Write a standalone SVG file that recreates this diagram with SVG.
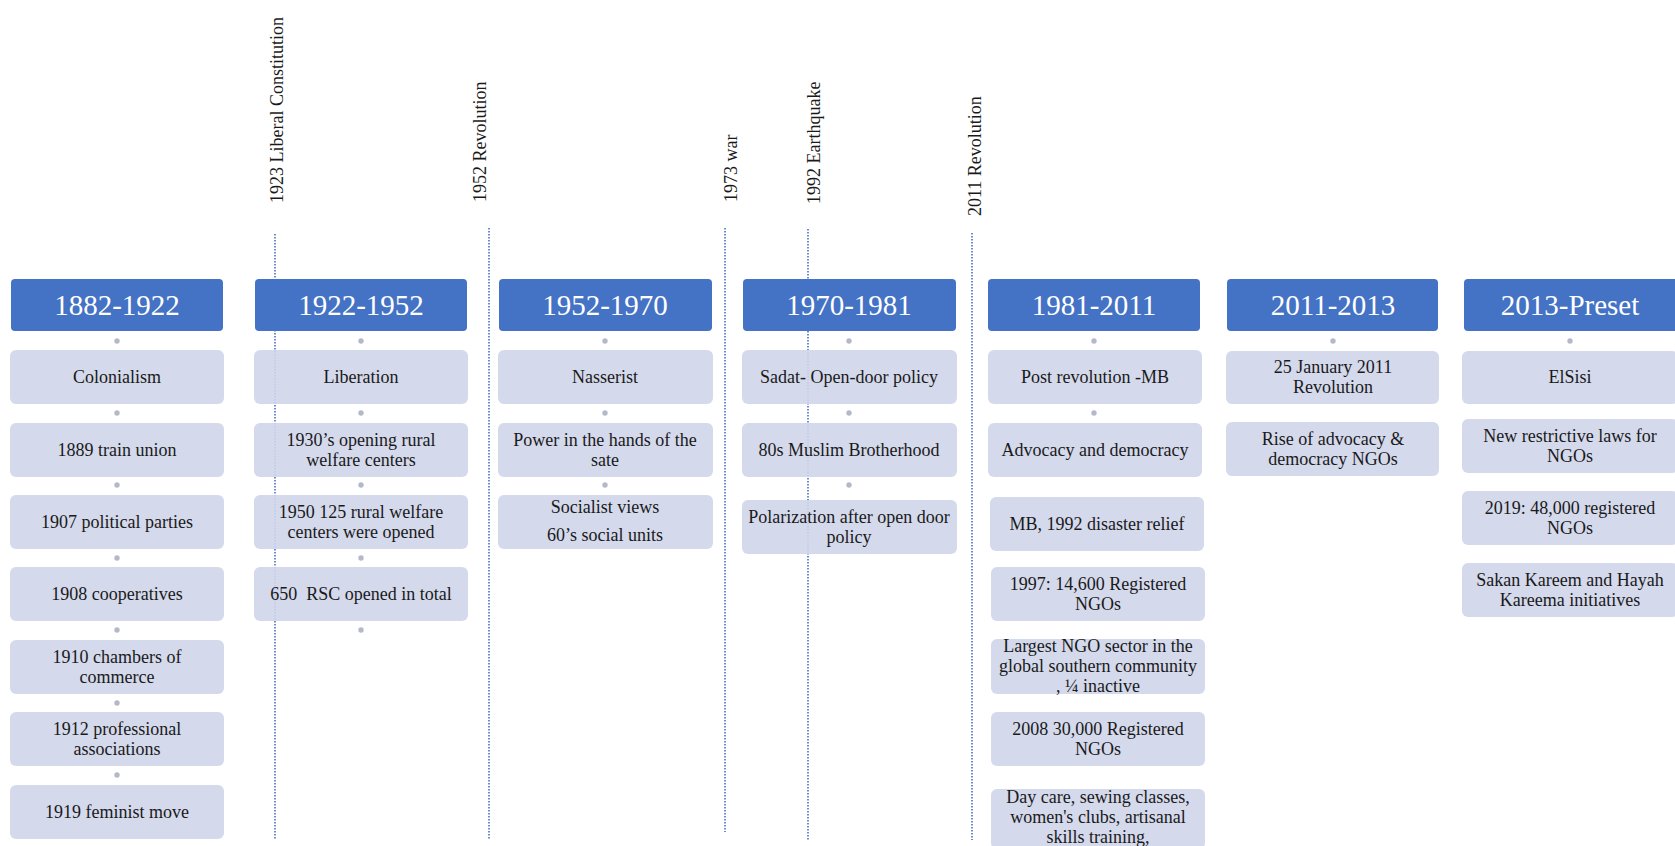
<svg xmlns="http://www.w3.org/2000/svg" width="1675" height="846" viewBox="0 0 1675 846">
  <style>
    .hdr { fill: #4472C4; }
    .hdr-t { font-family: "Liberation Serif", "Times New Roman", serif; font-size: 29px; fill: #FFFFFF; text-anchor: middle; }
    .sub { fill: #CFD5EA; fill-opacity: 0.9; }
    .sub-t { font-family: "Liberation Serif", "Times New Roman", serif; font-size: 18px; fill: #1A1A1A; text-anchor: middle; }
    .evt { stroke: #5578C6; stroke-width: 1.7; stroke-dasharray: 1.5 1.5; fill: none; }
    .evt-t { font-family: "Liberation Serif", "Times New Roman", serif; font-size: 18px; fill: #1A1A1A; }
    .dot { fill: #B3B9CB; }
  </style>
  <rect width="1675" height="846" fill="#FFFFFF"/>

  <!-- event markers: dotted vertical lines with rotated labels -->
  <g id="events">
    <g id="evt-1923">
      <line class="evt" x1="275" y1="234" x2="275" y2="840"/>
      <text class="evt-t" transform="translate(283,203) rotate(-90)">1923 Liberal Constitution</text>
    </g>
    <g id="evt-1952">
      <line class="evt" x1="489" y1="228" x2="489" y2="840"/>
      <text class="evt-t" transform="translate(486,202) rotate(-90)">1952 Revolution</text>
    </g>
    <g id="evt-1973">
      <line class="evt" x1="725" y1="228" x2="725" y2="832"/>
      <text class="evt-t" transform="translate(737,202) rotate(-90)">1973 war</text>
    </g>
    <g id="evt-1992">
      <line class="evt" x1="808" y1="229" x2="808" y2="840"/>
      <text class="evt-t" transform="translate(820,204) rotate(-90)">1992 Earthquake</text>
    </g>
    <g id="evt-2011">
      <line class="evt" x1="972" y1="233" x2="972" y2="840"/>
      <text class="evt-t" transform="translate(981,216) rotate(-90)">2011 Revolution</text>
    </g>
  </g>

  <!-- period headers -->
  <g id="hdr-1882"><rect class="hdr" x="11" y="279" width="212" height="52" rx="4"/><text class="hdr-t" x="117" y="315">1882-1922</text></g>
  <g id="hdr-1922"><rect class="hdr" x="255" y="279" width="212" height="52" rx="4"/><text class="hdr-t" x="361" y="315">1922-1952</text></g>
  <g id="hdr-1952"><rect class="hdr" x="499" y="279" width="213" height="52" rx="4"/><text class="hdr-t" x="605" y="315">1952-1970</text></g>
  <g id="hdr-1970"><rect class="hdr" x="743" y="279" width="213" height="52" rx="4"/><text class="hdr-t" x="849" y="315">1970-1981</text></g>
  <g id="hdr-1981"><rect class="hdr" x="988" y="279" width="212" height="52" rx="4"/><text class="hdr-t" x="1094" y="315">1981-2011</text></g>
  <g id="hdr-2011"><rect class="hdr" x="1227" y="279" width="211" height="52" rx="4"/><text class="hdr-t" x="1333" y="315">2011-2013</text></g>
  <g id="hdr-2013"><rect class="hdr" x="1464" y="279" width="214" height="52" rx="4"/><text class="hdr-t" x="1570" y="315">2013-Preset</text></g>

  <!-- small link dots between stacked items -->
  <g id="connectors">
    <circle class="dot" cx="117" cy="341" r="2.7"/>
    <circle class="dot" cx="117" cy="413" r="2.7"/>
    <circle class="dot" cx="117" cy="485" r="2.7"/>
    <circle class="dot" cx="117" cy="558" r="2.7"/>
    <circle class="dot" cx="117" cy="630" r="2.7"/>
    <circle class="dot" cx="117" cy="703" r="2.7"/>
    <circle class="dot" cx="117" cy="775" r="2.7"/>
    <circle class="dot" cx="361" cy="341" r="2.7"/>
    <circle class="dot" cx="361" cy="413" r="2.7"/>
    <circle class="dot" cx="361" cy="485" r="2.7"/>
    <circle class="dot" cx="361" cy="558" r="2.7"/>
    <circle class="dot" cx="361" cy="630" r="2.7"/>
    <circle class="dot" cx="605" cy="341" r="2.7"/>
    <circle class="dot" cx="605" cy="413" r="2.7"/>
    <circle class="dot" cx="605" cy="485" r="2.7"/>
    <circle class="dot" cx="849" cy="341" r="2.7"/>
    <circle class="dot" cx="849" cy="413" r="2.7"/>
    <circle class="dot" cx="849" cy="485" r="2.7"/>
    <circle class="dot" cx="1094" cy="341" r="2.7"/>
    <circle class="dot" cx="1094" cy="413" r="2.7"/>
    <circle class="dot" cx="1333" cy="341" r="2.7"/>
    <circle class="dot" cx="1570" cy="341" r="2.7"/>
  </g>

  <!-- 1882-1922 -->
  <g id="c1-colonialism"><rect class="sub" x="10" y="350" width="214" height="54" rx="6"/><text class="sub-t" x="117" y="383">Colonialism</text></g>
  <g id="c1-train"><rect class="sub" x="10" y="423" width="214" height="54" rx="6"/><text class="sub-t" x="117" y="456">1889 train union</text></g>
  <g id="c1-parties"><rect class="sub" x="10" y="495" width="214" height="54" rx="6"/><text class="sub-t" x="117" y="528">1907 political parties</text></g>
  <g id="c1-coops"><rect class="sub" x="10" y="567" width="214" height="54" rx="6"/><text class="sub-t" x="117" y="600">1908 cooperatives</text></g>
  <g id="c1-chambers"><rect class="sub" x="10" y="640" width="214" height="54" rx="6"/><text class="sub-t" x="117" y="663">1910 chambers of</text><text class="sub-t" x="117" y="683">commerce</text></g>
  <g id="c1-prof"><rect class="sub" x="10" y="712" width="214" height="54" rx="6"/><text class="sub-t" x="117" y="735">1912 professional</text><text class="sub-t" x="117" y="755">associations</text></g>
  <g id="c1-feminist"><rect class="sub" x="10" y="785" width="214" height="54" rx="6"/><text class="sub-t" x="117" y="818">1919 feminist move</text></g>

  <!-- 1922-1952 -->
  <g id="c2-liberation"><rect class="sub" x="254" y="350" width="214" height="54" rx="6"/><text class="sub-t" x="361" y="383">Liberation</text></g>
  <g id="c2-1930"><rect class="sub" x="254" y="423" width="214" height="54" rx="6"/><text class="sub-t" x="361" y="446">1930’s opening rural</text><text class="sub-t" x="361" y="466">welfare centers</text></g>
  <g id="c2-1950"><rect class="sub" x="254" y="495" width="214" height="54" rx="6"/><text class="sub-t" x="361" y="518">1950 125 rural welfare</text><text class="sub-t" x="361" y="538">centers were opened</text></g>
  <g id="c2-rsc"><rect class="sub" x="254" y="567" width="214" height="54" rx="6"/><text class="sub-t" x="361" y="600" xml:space="preserve">650  RSC opened in total</text></g>

  <!-- 1952-1970 -->
  <g id="c3-nasserist"><rect class="sub" x="498" y="350" width="215" height="54" rx="6"/><text class="sub-t" x="605" y="383">Nasserist</text></g>
  <g id="c3-power"><rect class="sub" x="498" y="423" width="215" height="54" rx="6"/><text class="sub-t" x="605" y="446">Power in the hands of the</text><text class="sub-t" x="605" y="466">sate</text></g>
  <g id="c3-socialist"><rect class="sub" x="498" y="495" width="215" height="54" rx="6"/><text class="sub-t" x="605" y="513">Socialist views</text><text class="sub-t" x="605" y="541">60’s social units</text></g>

  <!-- 1970-1981 -->
  <g id="c4-sadat"><rect class="sub" x="742" y="350" width="215" height="54" rx="6"/><text class="sub-t" x="849" y="383">Sadat- Open-door policy</text></g>
  <g id="c4-mb"><rect class="sub" x="742" y="423" width="215" height="54" rx="6"/><text class="sub-t" x="849" y="456">80s Muslim Brotherhood</text></g>
  <g id="c4-polar"><rect class="sub" x="742" y="500" width="215" height="54" rx="6"/><text class="sub-t" x="849" y="523">Polarization after open door</text><text class="sub-t" x="849" y="543">policy</text></g>

  <!-- 1981-2011 -->
  <g id="c5-post"><rect class="sub" x="988" y="350" width="214" height="54" rx="6"/><text class="sub-t" x="1095" y="383">Post revolution -MB</text></g>
  <g id="c5-advocacy"><rect class="sub" x="988" y="423" width="214" height="54" rx="6"/><text class="sub-t" x="1095" y="456">Advocacy and democracy</text></g>
  <g id="c5-relief"><rect class="sub" x="990" y="497" width="214" height="54" rx="6"/><text class="sub-t" x="1097" y="530">MB, 1992 disaster relief</text></g>
  <g id="c5-1997"><rect class="sub" x="991" y="567" width="214" height="54" rx="6"/><text class="sub-t" x="1098" y="590">1997: 14,600 Registered</text><text class="sub-t" x="1098" y="610">NGOs</text></g>
  <g id="c5-largest"><rect class="sub" x="991" y="639" width="214" height="55" rx="6"/><text class="sub-t" x="1098" y="652">Largest NGO sector in the</text><text class="sub-t" x="1098" y="672">global southern community</text><text class="sub-t" x="1098" y="692">, ¼ inactive</text></g>
  <g id="c5-2008"><rect class="sub" x="991" y="712" width="214" height="54" rx="6"/><text class="sub-t" x="1098" y="735">2008 30,000 Registered</text><text class="sub-t" x="1098" y="755">NGOs</text></g>
  <g id="c5-daycare"><rect class="sub" x="991" y="789" width="214" height="60" rx="6"/><text class="sub-t" x="1098" y="803">Day care, sewing classes,</text><text class="sub-t" x="1098" y="823">women's clubs, artisanal</text><text class="sub-t" x="1098" y="843">skills training,</text></g>

  <!-- 2011-2013 -->
  <g id="c6-jan25"><rect class="sub" x="1226" y="351" width="213" height="53" rx="6"/><text class="sub-t" x="1333" y="373">25 January 2011</text><text class="sub-t" x="1333" y="393">Revolution</text></g>
  <g id="c6-rise"><rect class="sub" x="1226" y="422" width="213" height="54" rx="6"/><text class="sub-t" x="1333" y="445">Rise of advocacy &amp;</text><text class="sub-t" x="1333" y="465">democracy NGOs</text></g>

  <!-- 2013-Preset -->
  <g id="c7-elsisi"><rect class="sub" x="1462" y="351" width="216" height="53" rx="6"/><text class="sub-t" x="1570" y="383">ElSisi</text></g>
  <g id="c7-laws"><rect class="sub" x="1462" y="419" width="216" height="54" rx="6"/><text class="sub-t" x="1570" y="442">New restrictive laws for</text><text class="sub-t" x="1570" y="462">NGOs</text></g>
  <g id="c7-2019"><rect class="sub" x="1462" y="491" width="216" height="54" rx="6"/><text class="sub-t" x="1570" y="514">2019: 48,000 registered</text><text class="sub-t" x="1570" y="534">NGOs</text></g>
  <g id="c7-sakan"><rect class="sub" x="1462" y="563" width="216" height="54" rx="6"/><text class="sub-t" x="1570" y="586">Sakan Kareem and Hayah</text><text class="sub-t" x="1570" y="606">Kareema initiatives</text></g>
</svg>
